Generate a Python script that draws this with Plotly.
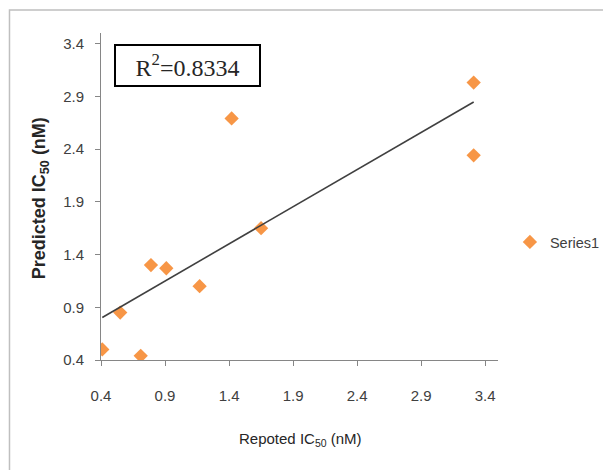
import numpy as np
import plotly.graph_objects as go

# Data
reported_ic50 = [0.41, 0.55, 0.71, 0.79, 0.91, 1.17, 1.42, 1.65, 3.31, 3.31]
predicted_ic50 = [0.50, 0.85, 0.44, 1.30, 1.27, 1.10, 2.69, 1.65, 3.03, 2.34]
series_name = "Series1"
r2_text = "R<sup>2</sup>=0.8334"
x_title = "Repoted IC<sub>50</sub> (nM)"
y_title = "<b>Predicted IC<sub>50</sub> (nM)</b>"
tick_vals = [0.4, 0.9, 1.4, 1.9, 2.4, 2.9, 3.4]
tick_text = ["0.4", "0.9", "1.4", "1.9", "2.4", "2.9", "3.4"]

x = np.array(reported_ic50)
y = np.array(predicted_ic50)
slope, intercept = np.polyfit(x, y, 1)
x_fit = np.array([x.min(), x.max()])
y_fit = slope * x_fit + intercept

SANS = "Liberation Sans"

fig = go.Figure()
fig.add_trace(go.Scatter(
    x=x, y=y, mode="markers", name=series_name,
    marker=dict(symbol="diamond", size=11, color="#F79646",
                line=dict(width=0)),
))
fig.add_trace(go.Scatter(
    x=x_fit, y=y_fit, mode="lines", showlegend=False,
    line=dict(color="#404040", width=1.6), hoverinfo="skip",
))

axis_common = dict(
    range=[0.4, 3.5], tickvals=tick_vals, ticktext=tick_text,
    showgrid=False, zeroline=False, showline=True, automargin=False,
    linecolor="#868686", linewidth=1,
    ticks="outside", ticklen=5, tickcolor="#868686", tickwidth=1,
    tickfont=dict(family=SANS, size=15, color="#404040"),
)

# The page body adds an 8 px offset, so the figure is 8 px smaller
fig.update_layout(
    width=603, height=462,
    margin=dict(l=93, r=113, t=25, b=110, autoexpand=False),
    paper_bgcolor="white", plot_bgcolor="white",
    xaxis=dict(**axis_common, ticklabelstandoff=17),
    yaxis=dict(**axis_common, ticklabelstandoff=8),
    legend=dict(x=1.030, y=0.361, xanchor="left", yanchor="middle",
                font=dict(family=SANS, size=14.5, color="#404040"),
                itemwidth=30, tracegroupgap=0),
    annotations=[
        dict(text=r2_text, xref="paper", yref="paper", x=0.218, y=0.901,
             xanchor="center", yanchor="middle", showarrow=False,
             font=dict(family="Liberation Serif", size=24, color="#262626"),
             bordercolor="black", borderwidth=2, borderpad=1,
             width=141, height=37, bgcolor="white"),
        dict(text=x_title, xref="paper", yref="paper", x=0.5016, y=-0.2435,
             xanchor="center", yanchor="middle", showarrow=False,
             font=dict(family=SANS, size=15, color="#262626")),
        dict(text=y_title, xref="paper", yref="paper", x=-0.1503, y=0.4959,
             xanchor="center", yanchor="middle", showarrow=False, textangle=-90,
             font=dict(family=SANS, size=18, color="#262626")),
    ],
    shapes=[dict(
        type="rect", xref="paper", yref="paper",
        x0=-0.2305, x1=1.3, y0=-0.36, y1=1.0703,
        line=dict(color="#BFBFBF", width=1.5), layer="below",
    )],
)

fig.write_html("out.html")
